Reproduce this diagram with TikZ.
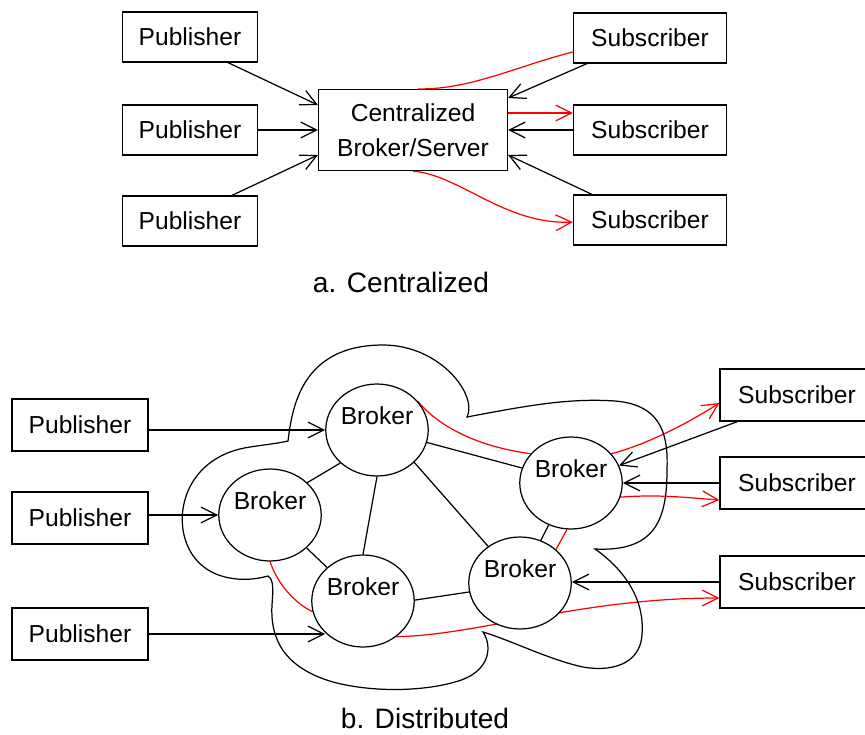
\documentclass[tikz,border=0pt]{standalone}
\usepackage{fontspec}
\setmainfont{Liberation Sans}
\usetikzlibrary{arrows.meta,shapes.geometric,backgrounds}

\begin{document}
\begin{tikzpicture}[x=0.02cm,y=-0.02cm,line width=0.7pt,
	box/.style={draw,inner sep=0pt,minimum height=1cm,font=\fontsize{14}{17}\selectfont},
	pubbox/.style={box,minimum width=2.7cm},
	subbox/.style={box,minimum width=3.06cm},
	broker/.style={draw,ellipse,fill=white,inner sep=0pt,minimum width=2.04cm,minimum height=1.84cm,
		text height=0.3cm,text depth=0.54cm,font=\fontsize{14}{17}\selectfont},
	caption/.style={font=\fontsize{16}{19}\selectfont},
	arr/.style={-{Straight Barb[length=9pt,width=9pt]}},
	note/.style={red}]

	\useasboundingbox (0,0) rectangle (865,734);

	% a. centralized
	\node (P1)[pubbox] at (190,37) {Publisher};
	\node (P2)[pubbox] at (190,130) {Publisher};
	\node (P3)[pubbox] at (190,221) {Publisher};
	\node (S1)[subbox] at (650,38) {Subscriber};
	\node (S2)[subbox] at (650,130) {Subscriber};
	\node (S3)[subbox] at (650,220) {Subscriber};
	\node (C)[draw,inner sep=0pt,minimum width=3.78cm,minimum height=1.62cm,align=center,
		font=\fontsize{14}{19.8}\selectfont] at (413,130) {Centralized\\Broker/Server};
	\node (capA)[caption] at (401,282) {a. Centralized};

	\draw [arr] ([xshift=0.76cm]P1.south) -- ([yshift=0.5cm]C.west);
	\draw [arr] (P2.east) -- (C.west);
	\draw [arr] ([xshift=0.84cm]P3.north) -- ([yshift=-0.5cm]C.west);

	\draw [arr] ([xshift=-1.26cm]S1.south) -- ([yshift=0.64cm]C.east);
	\draw [arr] (S2.west) -- (C.east);
	\draw [arr] ([xshift=-1.16cm]S3.north) -- ([yshift=-0.5cm]C.east);

	\draw [note] ([yshift=-0.28cm]S1.west) .. controls (520,65) and (470,90) .. ([xshift=0.1cm]C.north);
	\draw [note,arr] ([yshift=0.34cm]C.east) -- ([yshift=0.34cm]S2.west);
	\draw [note,arr] (C.south) .. controls (460,175) and (505,225) .. ([yshift=-0.04cm]S3.west);

	% b. distributed
	\node (DP1)[pubbox,minimum width=2.72cm,minimum height=1.04cm] at (80,425) {Publisher};
	\node (DP2)[pubbox,minimum width=2.72cm,minimum height=1.04cm] at (80,518) {Publisher};
	\node (DP3)[pubbox,minimum width=2.72cm,minimum height=1.04cm] at (80,634) {Publisher};
	\node (DS1)[subbox,minimum width=3.08cm,minimum height=1.04cm] at (797,395) {Subscriber};
	\node (DS2)[subbox,minimum width=3.08cm,minimum height=1.04cm] at (797,483) {Subscriber};
	\node (DS3)[subbox,minimum width=3.08cm,minimum height=1.04cm] at (797,582) {Subscriber};

	\node (B1)[broker] at (377,430) {Broker};
	\node (B2)[broker] at (270,515) {Broker};
	\node (B3)[broker] at (363,601) {Broker};
	\node (B4)[broker] at (571,483) {Broker};
	\node (B5)[broker] at (520,583) {Broker};
	\node (capB)[caption] at (425,718) {b. Distributed};

	% the cloud round the brokers
	\draw (288,441) .. controls (292,410) and (300,345) .. (383,345)
		.. controls (440,345) and (478,395) .. (467,417)
		.. controls (530,405) and (570,398) .. (615,401)
		.. controls (665,405) and (668,440) .. (667,470)
		.. controls (667,520) and (655,552) .. (595,549)
		.. controls (625,570) and (645,600) .. (642,635)
		.. controls (640,665) and (610,672) .. (583,667)
		.. controls (550,660) and (510,640) .. (483,632)
		.. controls (492,645) and (492,672) .. (455,682)
		.. controls (420,692) and (370,692) .. (333,682)
		.. controls (285,668) and (270,640) .. (272,605)
		.. controls (273,590) and (274,580) .. (268,576)
		.. controls (240,584) and (195,580) .. (184,535)
		.. controls (176,500) and (195,455) .. (250,447)
		.. controls (270,444) and (280,443) .. cycle;

	\begin{scope}[on background layer,every path/.append style={line width=0.7pt}]
	\draw (B1.-138) -- (B2.41);
	\draw (B1.south) -- (B3.north);
	\draw (B1.-41) -- (B5.131);
	\draw (B1.-14) -- (B4.163);
	\draw (B2.-42) -- (B3.137);
	\draw (B3.1) -- (B5.190);
	\draw (B4.-118) -- (B5.64);

	\draw [note] (B1.35) .. controls (440,428) and (480,447) .. (B4.144);
	\draw [note] (B4.-95) -- (B5.43);
	\draw [note] (B2.south) .. controls (278,585) and (295,603) .. (B3.-168);
	\draw [note,arr] (B3.-47) .. controls (480,635) and (580,598) .. ([yshift=-0.32cm]DS3.west);
	\draw [note,arr] (B4.36) .. controls (645,445) and (685,425) .. ([yshift=-0.16cm]DS1.west);
	\draw [note,arr] (B4.-16) .. controls (660,494) and (690,498) .. ([yshift=-0.34cm]DS2.west);
	\end{scope}

	\draw [arr] (DP1.east |- B1.west) -- (B1.west);
	\draw [arr] (DP2.east |- B2.west) -- (B2.west);
	\draw [arr] (DP3.east) -- (DP3.east -| B3.-140);

	\draw [arr] ([xshift=0.36cm]DS1.south west) -- (B4.20);
	\draw [arr] (DS2.west) -- (B4.east);
	\draw [arr] (DS3.west) -- (DS3.west -| B5.east);

\end{tikzpicture}
\end{document}
